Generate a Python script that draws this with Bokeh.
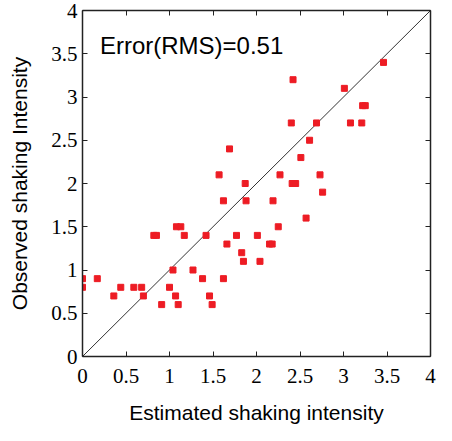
from bokeh.plotting import figure
from bokeh.models import Range1d, LinearAxis, FixedTicker, Label
from bokeh.embed import file_html
from bokeh.resources import INLINE

# ---- data ----
estimated = [0.00, 0.00, 0.17, 0.36, 0.44, 0.59, 0.68, 0.70, 0.82, 0.85,
             0.91, 1.00, 1.04, 1.07, 1.10, 1.08, 1.13, 1.17, 1.27, 1.38,
             1.42, 1.46, 1.49, 1.57, 1.62, 1.62, 1.69, 1.66, 1.77, 1.83,
             1.85, 1.87, 1.88, 2.01, 2.04, 2.15, 2.18, 2.19, 2.25, 2.27,
             2.40, 2.42, 2.41, 2.45, 2.51, 2.57, 2.61, 2.69, 2.73, 2.76,
             3.01, 3.08, 3.21, 3.22, 3.25, 3.46]
observed = [0.9, 0.8, 0.9, 0.7, 0.8, 0.8, 0.8, 0.7, 1.4, 1.4,
            0.6, 0.8, 1.0, 0.7, 0.6, 1.5, 1.5, 1.4, 1.0, 0.9,
            1.4, 0.7, 0.6, 2.1, 0.9, 1.8, 2.4, 1.3, 1.4, 1.2,
            1.1, 2.0, 1.8, 1.4, 1.1, 1.3, 1.3, 1.8, 1.5, 2.1,
            2.7, 3.2, 2.0, 2.0, 2.3, 1.6, 2.5, 2.7, 2.1, 1.9,
            3.1, 2.7, 2.7, 2.9, 2.9, 3.4]
diag = [0, 4]
tick_vals = [0, 0.5, 1, 1.5, 2, 2.5, 3, 3.5, 4]
tick_labels = ["0", "0.5", "1", "1.5", "2", "2.5", "3", "3.5", "4"]
annotation = "Error(RMS)=0.51"
x_title = "Estimated shaking intensity"
y_title = "Observed shaking Intensity"

axis_color = "#222222"

p = figure(frame_width=348, frame_height=346,
           min_border_left=82, min_border_right=6,
           min_border_top=10, min_border_bottom=69,
           x_range=Range1d(0, 4), y_range=Range1d(0, 4),
           output_backend="svg", toolbar_location=None)
p.grid.visible = False
p.outline_line_color = None
p.background_fill_color = "white"
p.border_fill_color = "white"

overrides = {v: t for v, t in zip(tick_vals, tick_labels)}
blank = {v: "" for v in tick_vals}

def style(ax, labels=True):
    ax.ticker = FixedTicker(ticks=tick_vals)
    ax.major_tick_in = 5
    ax.major_tick_out = 0
    ax.minor_tick_line_color = None
    ax.axis_line_color = axis_color
    ax.axis_line_width = 1.5
    ax.major_tick_line_color = axis_color
    ax.major_tick_line_width = 1
    if labels:
        ax.major_label_overrides = overrides
        ax.major_label_text_font = "Liberation Serif"
        ax.major_label_text_font_size = "21px"
        ax.major_label_text_color = "black"
        ax.axis_label_text_font = "Liberation Sans"
        ax.axis_label_text_font_size = "21px"
        ax.axis_label_text_font_style = "normal"
        ax.axis_label_text_color = "black"
    else:
        ax.major_label_overrides = blank
        ax.major_label_standoff = 0

xa = p.xaxis[0]
ya = p.yaxis[0]
style(xa)
style(ya)
xa.axis_label = x_title
ya.axis_label = y_title
xa.major_label_standoff = 12
xa.axis_label_standoff = 15
ya.major_label_standoff = 5
ya.axis_label_standoff = 17

top = LinearAxis()
style(top, labels=False)
p.add_layout(top, "above")
right = LinearAxis()
style(right, labels=False)
p.add_layout(right, "right")

p.line(diag, diag, line_color="#333333", line_width=1)
p.scatter(estimated, observed, marker="square", size=6,
          fill_color="#ED1C24", line_color="#ED1C24")

p.add_layout(Label(x=0.2, y=3.6, text=annotation, text_font="Liberation Sans",
                   text_font_size="24px", text_color="black",
                   text_baseline="alphabetic"))

open("out.html", "w").write(file_html(p, INLINE))
